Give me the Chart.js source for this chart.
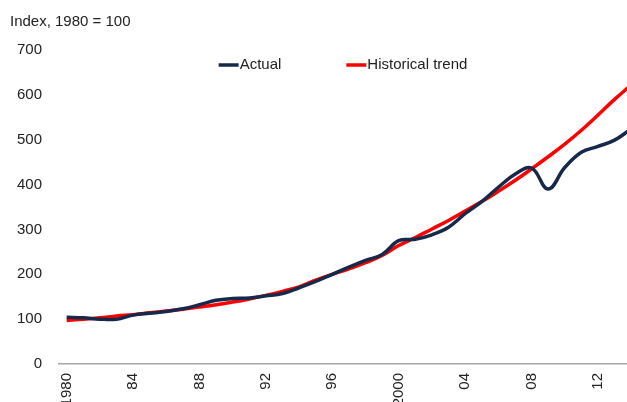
<!DOCTYPE html>
<html>
<head>
<meta charset="utf-8">
<script src="https://cdn.jsdelivr.net/npm/chart.js@4.4.1/dist/chart.umd.min.js"></script>
<style>
  html, body { margin: 0; padding: 0; background: #fff; overflow: hidden; }
  canvas { display: block; }
</style>
</head>
<body>
<canvas id="indexChart" width="627" height="402"></canvas>
<script>
// data (index, 1980 = 100)
const years = [1980, 1981, 1982, 1983, 1984, 1985, 1986, 1987, 1988, 1989,
               1990, 1991, 1992, 1993, 1994, 1995, 1996, 1997, 1998, 1999,
               2000, 2001, 2002, 2003, 2004, 2005, 2006, 2007, 2008, 2009,
               2010, 2011, 2012, 2013, 2014];
const actual = [104, 103, 100, 100, 109, 113, 117, 123, 132, 142,
                146, 147, 152, 157, 170, 184, 200, 216, 231, 244,
                275, 278, 288, 305, 335, 362, 394, 423, 437, 390,
                438, 472, 485, 499, 524];
const trend = [97, 100, 103, 107, 110, 114, 118, 122, 127, 132,
               138, 145, 153, 162, 172, 187, 200, 212, 226, 242,
               264, 282, 301, 320, 341, 362, 385, 409, 435, 462,
               490, 521, 555, 590, 622];
const tickYears = [1980, 1984, 1988, 1992, 1996, 2000, 2004, 2008, 2012];
const tickLabels = ['1980', '84', '88', '92', '96', '2000', '04', '08', '12'];

const font = "'Liberation Sans', Arial, sans-serif";
Chart.defaults.font.family = font;
Chart.defaults.font.size = 15;
Chart.defaults.color = '#222';

// legend sits inside the plot area, drawn by hand
const inlineLegend = {
    id: 'inlineLegend',
    afterDraw(chart) {
        const ctx = chart.ctx;
        const area = chart.chartArea;
        const sample = 20, gap = 1, itemGap = 65, y = 65;
        ctx.save();
        ctx.font = '15px ' + font;
        ctx.textBaseline = 'middle';
        const sets = chart.data.datasets;
        const widths = sets.map(d => ctx.measureText(d.label).width);
        let total = 0;
        widths.forEach((w, i) => { total += sample + gap + w + (i < widths.length - 1 ? itemGap : 0); });
        let x = (area.left + area.right) / 2 - total / 2;
        sets.forEach((d, i) => {
            ctx.strokeStyle = d.borderColor;
            ctx.lineWidth = 3.5;
            ctx.beginPath();
            ctx.moveTo(x, y);
            ctx.lineTo(x + sample, y);
            ctx.stroke();
            ctx.fillStyle = '#222';
            ctx.fillText(d.label, x + sample + gap, y);
            x += sample + gap + widths[i] + itemGap;
        });
        ctx.restore();
    }
};

const ctx = document.getElementById('indexChart').getContext('2d');
new Chart(ctx, {
    type: 'line',
    data: {
        datasets: [
            {
                label: 'Actual',
                data: years.map((yr, i) => ({ x: yr, y: actual[i] })),
                borderColor: '#17294a',
                borderWidth: 3.5,
                pointRadius: 0,
                tension: 0.4,
                fill: false
            },
            {
                label: 'Historical trend',
                data: years.map((yr, i) => ({ x: yr, y: trend[i] })),
                borderColor: '#ff0000',
                borderWidth: 3.5,
                pointRadius: 0,
                tension: 0.4,
                fill: false
            }
        ]
    },
    options: {
        responsive: false,
        animation: false,
        layout: { padding: { left: 10, right: 0, top: 0, bottom: 0 } },
        plugins: {
            legend: { display: false },
            tooltip: { enabled: false },
            title: {
                display: true,
                text: 'Index, 1980 = 100',
                align: 'start',
                color: '#222',
                font: { size: 15, weight: 'normal' },
                padding: { top: 13, bottom: 19 }
            }
        },
        scales: {
            x: {
                type: 'linear',
                min: 1979.54,
                max: 2013.75,
                afterBuildTicks: scale => {
                    scale.ticks = tickYears.map(v => ({ value: v }));
                },
                afterFit: scale => { scale.height = 38; },
                ticks: {
                    autoSkip: false,
                    minRotation: 90,
                    maxRotation: 90,
                    padding: 9,
                    color: '#222',
                    callback: (value, index) => tickLabels[index]
                },
                grid: { display: false, drawTicks: false },
                border: { display: true, color: '#a6a6a6', width: 1.5 }
            },
            y: {
                min: 0,
                max: 700,
                afterFit: scale => { scale.width = 49; },
                ticks: {
                    stepSize: 100,
                    padding: 17,
                    color: '#222'
                },
                grid: { display: false, drawTicks: false },
                border: { display: false }
            }
        }
    },
    plugins: [inlineLegend]
});
</script>
</body>
</html>
